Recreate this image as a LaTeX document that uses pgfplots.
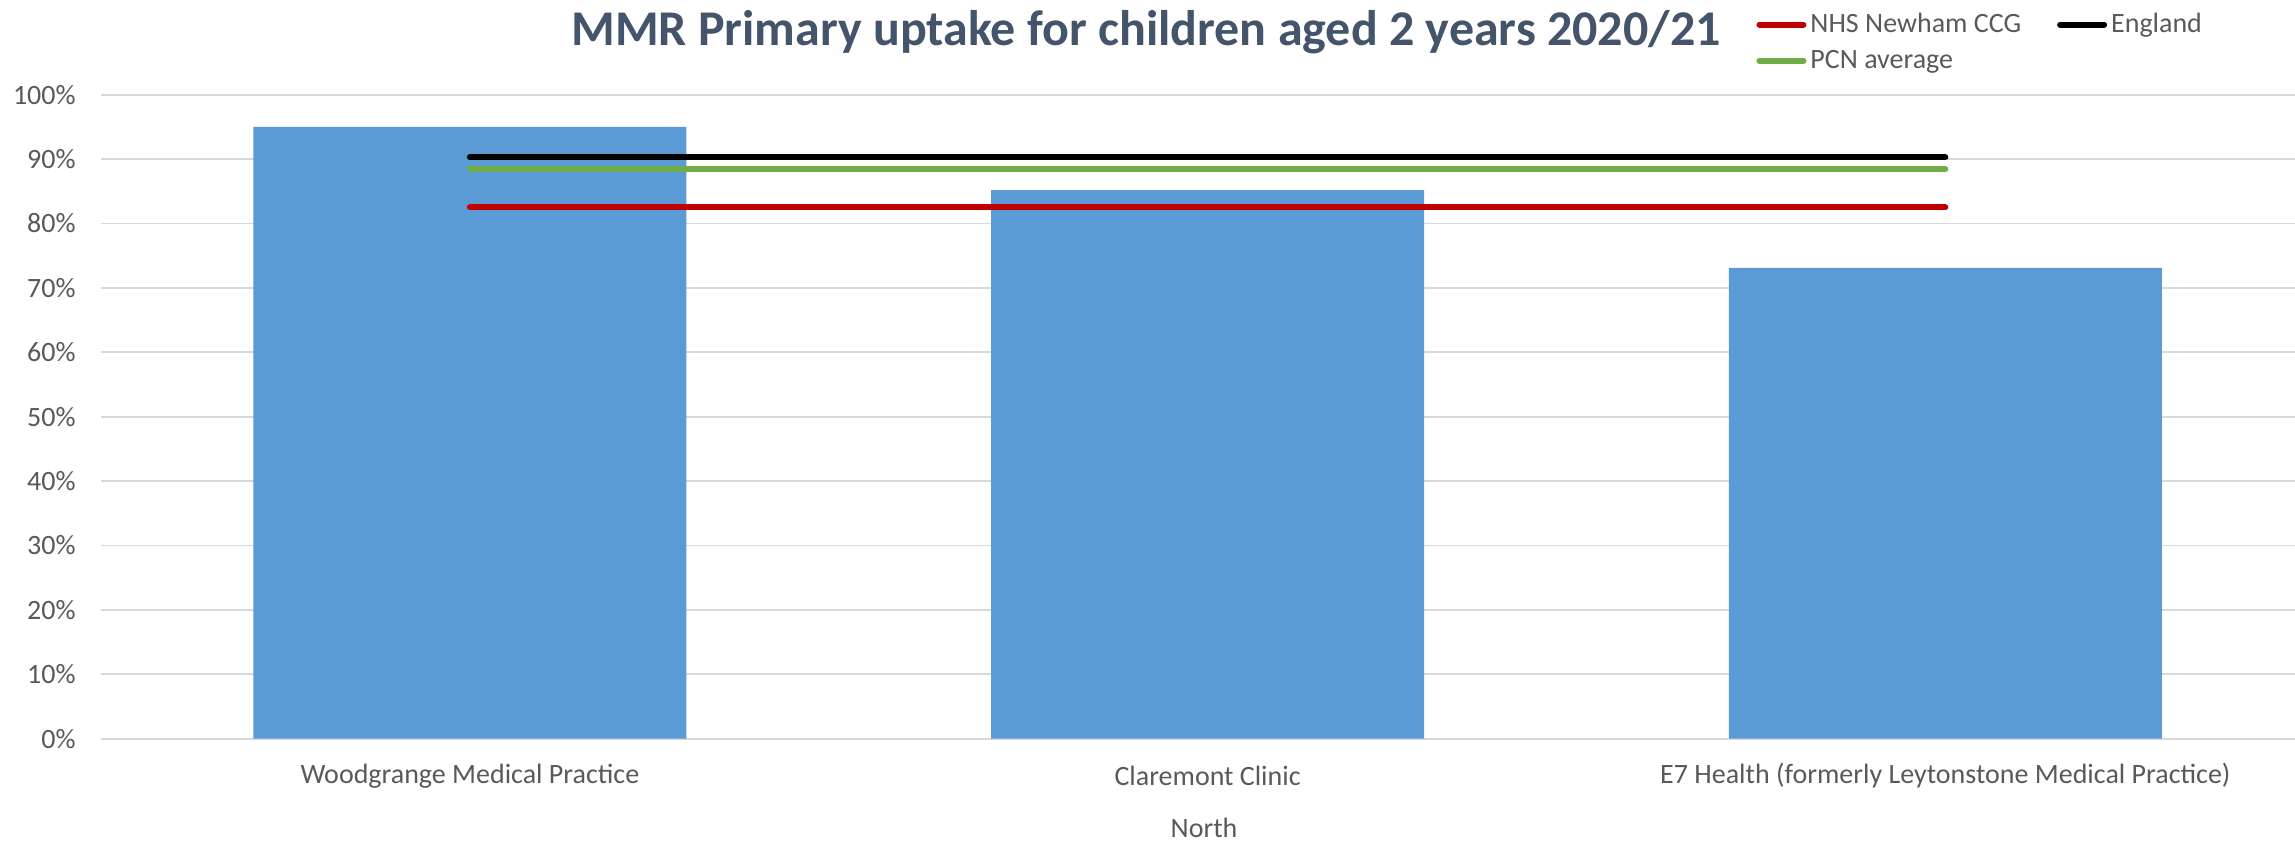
\documentclass[border=0pt]{standalone}
\usepackage{fontspec}
\setmainfont{Carlito}
\usepackage{pgfplots}
\pgfplotsset{compat=1.18}
\definecolor{barblue}{HTML}{5B9BD5}
\definecolor{ccgred}{HTML}{C00000}
\definecolor{pcngreen}{HTML}{70AD47}
\definecolor{gridgray}{HTML}{D9D9D9}
\definecolor{textgray}{HTML}{595959}
\definecolor{titleslate}{HTML}{44546A}
\begin{document}
\begin{tikzpicture}
\useasboundingbox (-50.5pt,-51.65pt) rectangle (1097pt,369.35pt);
\begin{axis}[
    scale only axis,
    width=1106.6pt, height=322pt,
    xmin=-0.5, xmax=2.5,
    ymin=0, ymax=100,
    ytick={0,10,20,30,40,50,60,70,80,90,100},
    yticklabels={0\%,10\%,20\%,30\%,40\%,50\%,60\%,70\%,80\%,90\%,100\%},
    xtick={0,1,2},
    xticklabels={Woodgrange Medical Practice, Claremont Clinic, E7 Health (formerly Leytonstone Medical Practice)},
    axis line style={draw=none},
    major tick length=0pt,
    ymajorgrids=true,
    grid style={draw=gridgray, line width=0.9pt},
    ticklabel style={font=\fontsize{14}{17}\selectfont, text=textgray},
    yticklabel style={anchor=east, inner sep=0pt, xshift=-12.5pt},
    xticklabel style={anchor=center, inner sep=0pt, yshift=-18.6pt},
    xlabel={North},
    xlabel style={at={(axis description cs:0.4984,0)}, anchor=center, yshift=-44.8pt,
        font=\fontsize{14}{17}\selectfont, text=textgray},
    title={MMR Primary uptake for children aged 2 years 2020/21},
    title style={at={(axis description cs:0.4722,1)}, anchor=center, yshift=25.5pt,
        font=\fontsize{25}{29}\selectfont\bfseries, text=titleslate},
    legend columns=2,
    legend style={at={(axis description cs:0.7478,1)}, anchor=north west, yshift=42.9pt,
        draw=none, fill=none, inner sep=0pt, font=\fontsize{14}{17}\selectfont,
        text=textgray, row sep=3.2pt,
        /tikz/every even column/.append style={column sep=16pt}},
    legend cell align=left,
    legend image code/.code={\draw[#1, line cap=round] (0pt,0pt) -- (22pt,0pt);},
]
\addplot[ybar, bar width=0.587, fill=barblue, draw=none, forget plot]
    coordinates {(0,95.0) (1,85.2) (2,73.1)};
\addplot[color=ccgred, line width=3pt, line cap=round]
    coordinates {(0,82.5) (1,82.5) (2,82.5)};
\addplot[color=black, line width=3pt, line cap=round]
    coordinates {(0,90.3) (1,90.3) (2,90.3)};
\addplot[color=pcngreen, line width=3pt, line cap=round]
    coordinates {(0,88.4) (1,88.4) (2,88.4)};
\legend{NHS Newham CCG, England, PCN average}
\draw[gridgray, line width=0.9pt] (axis description cs:0,0) -- ++(0,-52pt);
\end{axis}
\end{tikzpicture}
\end{document}
